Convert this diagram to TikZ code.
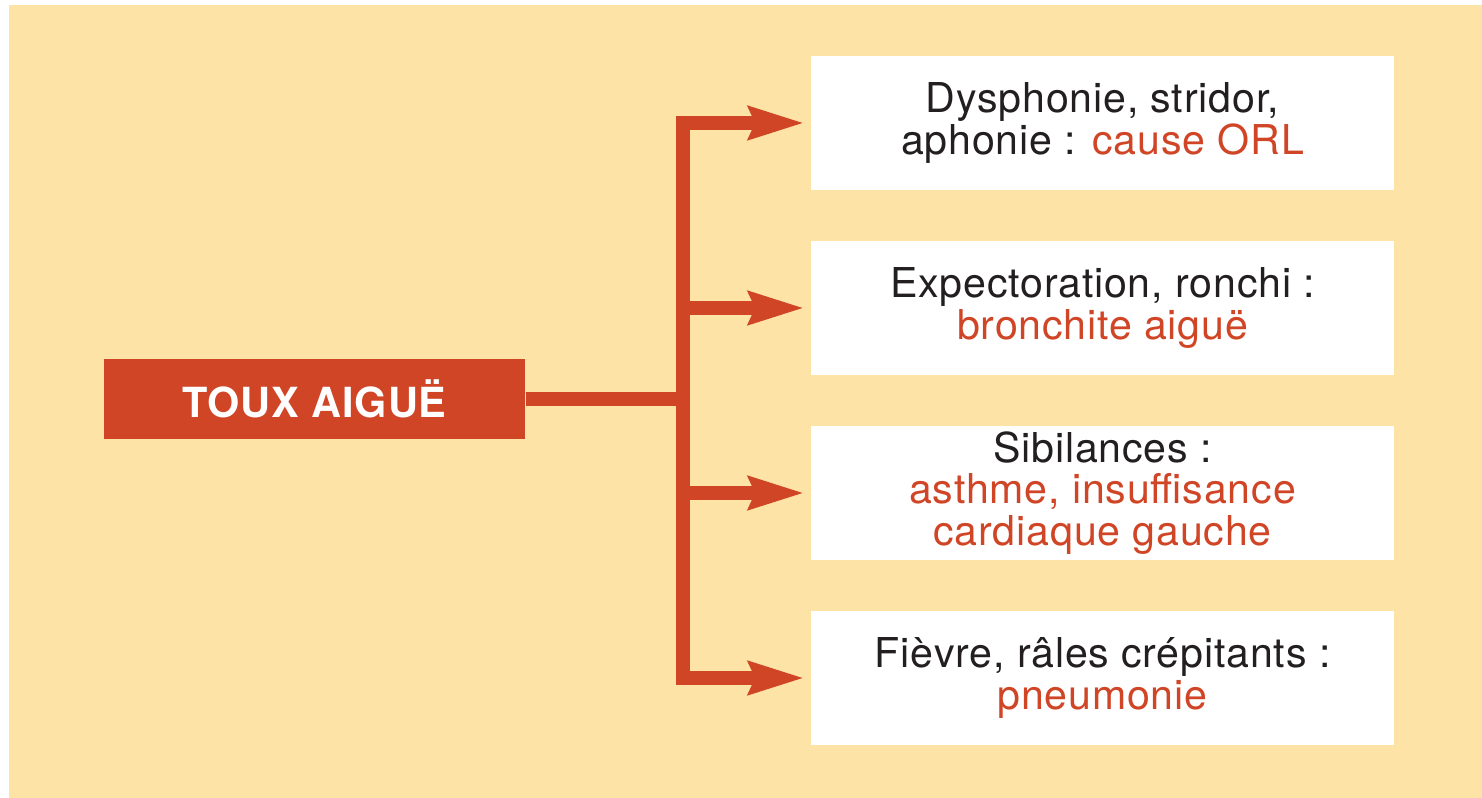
\documentclass[tikz,border=0pt]{standalone}
\usepackage{fontspec}
\setmainfont{TeX Gyre Heros}[LetterSpace=2]
\usepackage{xcolor}
\usetikzlibrary{arrows.meta,positioning}
\definecolor{fond}{RGB}{253,227,166}
\definecolor{rouge}{RGB}{209,69,39}
\definecolor{texte}{RGB}{35,31,32}

\begin{document}
\begin{tikzpicture}[
  font=\fontsize{11.7}{11.8}\selectfont,
  titre/.style={rectangle,fill=rouge,minimum width=4.21cm,minimum height=0.8cm,inner sep=0pt,text=white,font=\fontsize{11.8}{12}\selectfont\bfseries},
  signe/.style={rectangle,fill=white,minimum width=5.83cm,minimum height=1.34cm,inner sep=0pt,align=center,text=texte},
  arr/.style={-{Stealth[length=5.5mm,width=3.2mm,inset=0.6mm]},line width=1.4mm,color=rouge,shorten >=0.6mm},
]
\useasboundingbox (0,0) rectangle (14.82,7.98);
\fill[fond] (0.09,0) rectangle (14.82,7.93);

\node[titre] (toux) at (3.145,3.99) {TOUX AIGUË};

\node[signe] (orl) at (11.025,6.75) {Dysphonie, stridor,\\aphonie : \textcolor{rouge}{cause ORL}};
\node[signe] (bronch) at (11.025,4.90) {Expectoration, ronchi :\\\textcolor{rouge}{bronchite aiguë}};
\node[signe] (asthme) at (11.025,3.05) {Sibilances :\\\textcolor{rouge}{asthme, insuffisance}\\\textcolor{rouge}{cardiaque gauche}};
\node[signe] (pneumo) at (11.025,1.20) {Fièvre, râles crépitants :\\\textcolor{rouge}{pneumonie}};

\coordinate (hub) at (6.83,3.99);

\draw[arr] (toux.east) -- (hub) |- (orl.west);
\draw[arr] (toux.east) -- (hub) |- (bronch.west);
\draw[arr] (toux.east) -- (hub) |- (asthme.west);
\draw[arr] (toux.east) -- (hub) |- (pneumo.west);

\end{tikzpicture}
\end{document}
